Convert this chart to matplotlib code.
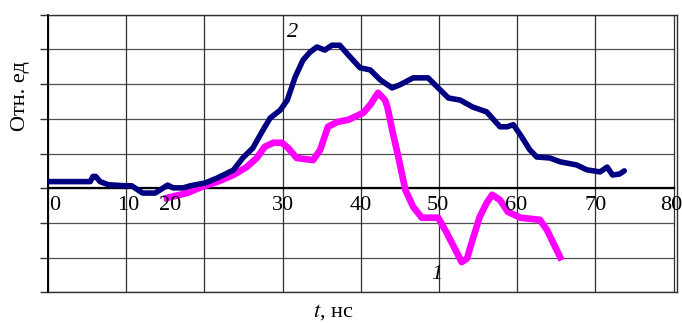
import numpy as np
import matplotlib.pyplot as plt

plt.rcParams['font.family'] = ['Liberation Serif', 'DejaVu Serif']
plt.rcParams['mathtext.fontset'] = 'stix'

# Curve 2 (navy)
t2 = [0, 5.4, 5.75, 6.1, 6.65, 7.7, 9.9, 10.7, 12.1, 13.7, 15.3, 16.0, 17.3, 18.2,
      20.1, 21.6, 23.7, 24.9, 26.2, 27.5, 28.4, 29.7, 30.6, 31.6, 32.6, 33.5, 34.4,
      35.4, 36.3, 37.3, 38.4, 39.9, 41.2, 42.5, 44.0, 45.0, 46.7, 48.6, 49.9, 51.2,
      52.7, 54.3, 56.1, 57.8, 58.7, 59.5, 60.4, 61.6, 62.5, 64.2, 65.5, 67.6, 68.9,
      70.6, 71.5, 72.2, 73.1, 73.7]
s2 = [0.19, 0.19, 0.34, 0.34, 0.19, 0.1, 0.07, 0.07, -0.14, -0.14, 0.09, 0.01, 0.01, 0.07,
      0.15, 0.29, 0.52, 0.87, 1.16, 1.68, 2.02, 2.25, 2.54, 3.2, 3.69, 3.92, 4.07,
      3.98, 4.12, 4.12, 3.84, 3.47, 3.41, 3.12, 2.89, 2.98, 3.18, 3.18, 2.89, 2.6,
      2.54, 2.34, 2.2, 1.77, 1.77, 1.83, 1.54, 1.11, 0.9, 0.87, 0.76, 0.67, 0.53,
      0.47, 0.61, 0.38, 0.41, 0.5]

# Curve 1 (magenta)
t1 = [15.2, 17.8, 19.8, 21.6, 23.7, 25.4, 26.7, 27.7, 28.8, 29.9, 30.7, 31.8, 33.9,
      34.8, 35.8, 37.0, 38.4, 40.3, 41.2, 42.2, 43.1, 43.4, 44.1, 44.8, 45.7, 46.7,
      47.8, 49.9, 51.0, 52.9, 53.6, 54.0, 55.2, 56.1, 56.8, 57.8, 58.8, 60.4, 62.9,
      63.8, 65.5]
s1 = [-0.28, -0.14, 0.05, 0.18, 0.38, 0.61, 0.87, 1.19, 1.31, 1.31, 1.16, 0.87, 0.81,
      1.1, 1.77, 1.91, 1.97, 2.17, 2.4, 2.75, 2.54, 2.34, 1.59, 0.9, -0.05, -0.54,
      -0.85, -0.85, -1.29, -2.13, -2.02, -1.7, -0.83, -0.42, -0.19, -0.34, -0.68, -0.85, -0.91,
      -1.2, -1.99]

# Tick labels and where they sit along the axis
tick_labels = ['0', '10', '20', '30', '40', '50', '60', '70', '80']
tick_label_x = [0.9, 10.2, 15.6, 30, 40, 49.9, 59.8, 70, 79.7]

x_grid = np.arange(0, 81, 10)
y_grid = np.arange(-3, 6, 1)

fig = plt.figure(figsize=(6.82, 3.23), dpi=100)
ax = fig.add_axes([0.0704, 0.095, 0.9230, 0.8595])
ax.set_xlim(0, 80.5)
ax.set_ylim(-3, 5)

# Grid
ax.hlines(y_grid, 0, 80, color='#505050', lw=0.9, zorder=1)
ax.vlines(x_grid, -3, 5, color='#303030', lw=0.9, zorder=1)
ax.axhline(0, xmin=0, xmax=80 / 80.5, color='black', lw=1.6, zorder=2)

# Curves
ax.plot(t2, s2, color='#000080', lw=4.0, solid_joinstyle='round', solid_capstyle='round', zorder=4)
ax.plot(t1, s1, color='#FF00FF', lw=4.8, solid_joinstyle='round', solid_capstyle='projecting', zorder=3)

# Frame and ticks
for side in ['left', 'top', 'right', 'bottom']:
    ax.spines[side].set_color('#303030')
    ax.spines[side].set_linewidth(1.0)
ax.spines['left'].set_color('black')
ax.spines['left'].set_linewidth(1.4)
ax.set_yticks(y_grid)
ax.set_yticklabels([])
ax.tick_params(axis='y', direction='out', length=6, width=1.0, color='#303030')
ax.set_xticks([])

for lab, xp in zip(tick_labels, tick_label_x):
    ax.text(xp, -0.22, lab, ha='center', va='top', fontsize=16)

# Curve numbers
ax.text(31.3, 4.5, '2', fontsize=16, style='italic', ha='center', va='center')
ax.text(49.7, -2.5, '1', fontsize=16, style='italic', ha='center', va='center')

# Axis titles
fig.text(20 / 682, 1 - 96 / 323, 'Отн. ед', rotation=90, fontsize=16, ha='center', va='center')
fig.text(333 / 682, 1 - 312 / 323, '$t$, нс', fontsize=16, ha='center', va='center')

fig.savefig('out.png', dpi=100)
